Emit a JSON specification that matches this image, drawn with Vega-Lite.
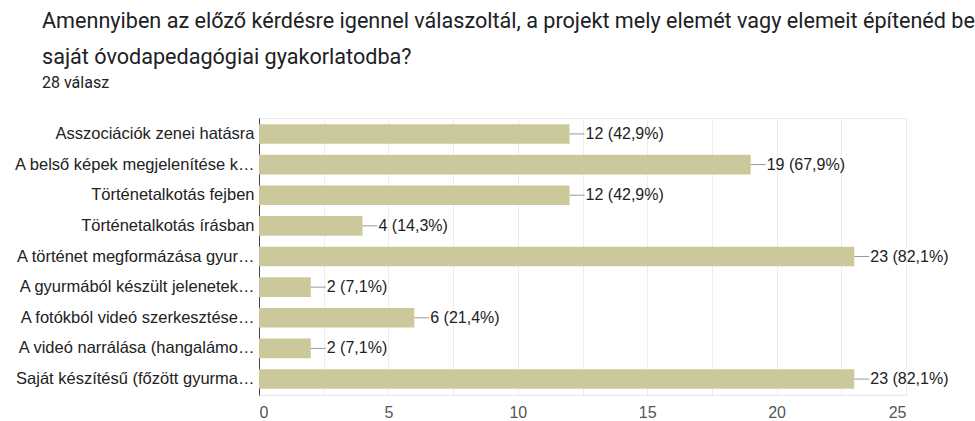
{
  "$schema": "https://vega.github.io/schema/vega-lite/v6.json",
  "width": 647,
  "height": 277,
  "autosize": {"type": "none"},
  "padding": {"left": 259, "top": 118, "right": 69, "bottom": 26},
  "background": "white",
  "title": {
    "text": ["Amennyiben az előző kérdésre igennel válaszoltál, a projekt mely elemét vagy elemeit építenéd be", "saját óvodapedagógiai gyakorlatodba?"],
    "subtitle": "28 válasz",
    "anchor": "start",
    "frame": "group",
    "dx": -217,
    "font": "Roboto",
    "fontSize": 21.6,
    "fontWeight": "normal",
    "color": "#202124",
    "lineHeight": 36,
    "subtitleFont": "Roboto",
    "subtitleFontSize": 16,
    "subtitleColor": "#202124",
    "subtitlePadding": 6,
    "offset": 27
  },
  "config": {
    "view": {"stroke": "#ebebeb"},
    "font": "Liberation Sans"
  },
  "data": {
    "values": [
      {"cat": "Asszociációk zenei hatásra", "value": 12, "label": "12 (42,9%)", "order": 1},
      {"cat": "A belső képek megjelenítése k…", "value": 19, "label": "19 (67,9%)", "order": 2},
      {"cat": "Történetalkotás fejben", "value": 12, "label": "12 (42,9%)", "order": 3},
      {"cat": "Történetalkotás írásban", "value": 4, "label": "4 (14,3%)", "order": 4},
      {"cat": "A történet megformázása gyur…", "value": 23, "label": "23 (82,1%)", "order": 5},
      {"cat": "A gyurmából készült jelenetek…", "value": 2, "label": "2 (7,1%)", "order": 6},
      {"cat": "A fotókból videó szerkesztése…", "value": 6, "label": "6 (21,4%)", "order": 7},
      {"cat": "A videó narrálása (hangalámo…", "value": 2, "label": "2 (7,1%)", "order": 8},
      {"cat": "Saját készítésű (főzött gyurma…", "value": 23, "label": "23 (82,1%)", "order": 9}
    ]
  },
  "encoding": {
    "y": {
      "field": "cat",
      "type": "nominal",
      "sort": {"field": "order"},
      "scale": {"paddingInner": 0.36, "paddingOuter": 0.2},
      "axis": {
        "title": null,
        "ticks": false,
        "domainColor": "#444",
        "labelFont": "Liberation Sans",
        "labelFontSize": 16.5,
        "labelColor": "#222",
        "labelPadding": 5,
        "labelLimit": 300
      }
    }
  },
  "layer": [
    {
      "mark": {"type": "bar", "color": "#cbc99b"},
      "encoding": {
        "x": {
          "field": "value",
          "type": "quantitative",
          "scale": {"domain": [0, 25], "nice": false},
          "axis": {
            "title": null,
            "values": [0, 2.5, 5, 7.5, 10, 12.5, 15, 17.5, 20, 22.5, 25],
            "labelExpr": "datum.value % 5 == 0 ? datum.label : ''",
            "ticks": false,
            "gridColor": "#ececec",
            "domainColor": "#e6e6e6",
            "labelFont": "Liberation Sans",
            "labelFontSize": 16,
            "labelColor": "#555",
            "labelPadding": 9
          }
        }
      }
    },
    {
      "mark": {"type": "rule", "color": "#9a9a9a", "x2Offset": 15},
      "encoding": {
        "x": {"field": "value", "type": "quantitative"},
        "x2": {"field": "value"}
      }
    },
    {
      "mark": {"type": "text", "align": "left", "baseline": "middle", "dx": 16, "fontSize": 16, "color": "#222", "font": "Liberation Sans"},
      "encoding": {
        "x": {"field": "value", "type": "quantitative"},
        "text": {"field": "label"}
      }
    }
  ]
}
